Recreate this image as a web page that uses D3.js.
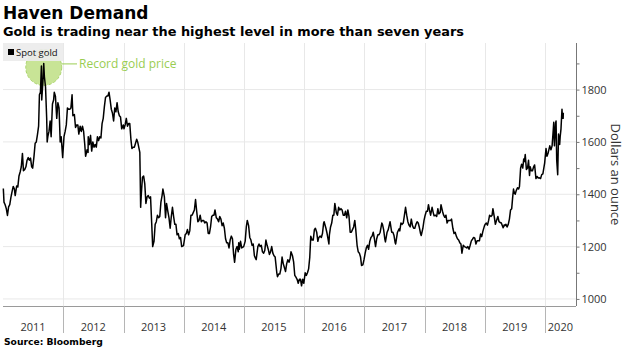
<!DOCTYPE html>
<html>
<head>
<meta charset="utf-8">
<script src="https://cdn.jsdelivr.net/npm/d3@7"></script>
<style>
  html, body { margin: 0; padding: 0; background: #fff; }
  svg { display: block; }
  .title { font-family: "DejaVu Sans", Verdana, sans-serif; font-weight: bold; }
  .lbl { font-family: "Open Sans", "Noto Sans", sans-serif; }
</style>
</head>
<body>
<div id="chart"></div>
<script>
// Spot gold, USD per ounce
const spotGold = [
  ["2011-01-03",1422],["2011-01-07",1370],["2011-01-14",1360],["2011-01-21",1345],["2011-01-28",1319],
  ["2011-02-04",1352],["2011-02-11",1360],["2011-02-18",1388],["2011-02-25",1410],
  ["2011-03-04",1430],["2011-03-11",1420],["2011-03-16",1395],["2011-03-25",1432],
  ["2011-04-01",1428],["2011-04-08",1470],["2011-04-15",1485],["2011-04-22",1505],["2011-04-29",1556],
  ["2011-05-05",1490],["2011-05-13",1495],["2011-05-20",1505],["2011-05-27",1530],
  ["2011-06-03",1540],["2011-06-10",1530],["2011-06-17",1538],["2011-06-24",1505],["2011-06-30",1500],
  ["2011-07-08",1545],["2011-07-15",1595],["2011-07-22",1600],["2011-07-29",1628],
  ["2011-08-05",1660],["2011-08-10",1780],["2011-08-16",1790],["2011-08-22",1890],["2011-08-24",1760],["2011-08-31",1830],
  ["2011-09-05",1900],["2011-09-09",1850],["2011-09-16",1810],["2011-09-23",1690],["2011-09-26",1600],["2011-09-30",1620],
  ["2011-10-07",1640],["2011-10-14",1680],["2011-10-20",1620],["2011-10-28",1745],
  ["2011-11-04",1760],["2011-11-08",1790],["2011-11-15",1775],["2011-11-23",1690],["2011-11-30",1750],
  ["2011-12-07",1730],["2011-12-14",1600],["2011-12-20",1620],["2011-12-29",1540],
  ["2012-01-06",1620],["2012-01-13",1640],["2012-01-20",1665],["2012-01-27",1730],
  ["2012-02-03",1725],["2012-02-10",1725],["2012-02-17",1730],["2012-02-24",1780],["2012-02-29",1700],
  ["2012-03-09",1705],["2012-03-16",1655],["2012-03-23",1665],["2012-03-30",1665],
  ["2012-04-05",1630],["2012-04-13",1660],["2012-04-20",1640],["2012-04-27",1660],
  ["2012-05-04",1640],["2012-05-11",1590],["2012-05-16",1545],["2012-05-25",1570],["2012-05-31",1560],
  ["2012-06-01",1620],["2012-06-08",1590],["2012-06-15",1625],["2012-06-22",1565],["2012-06-29",1600],
  ["2012-07-06",1580],["2012-07-13",1590],["2012-07-20",1580],["2012-07-27",1620],
  ["2012-08-03",1605],["2012-08-10",1620],["2012-08-17",1615],["2012-08-24",1670],["2012-08-31",1690],
  ["2012-09-07",1735],["2012-09-14",1770],["2012-09-21",1775],["2012-09-28",1775],
  ["2012-10-05",1790],["2012-10-12",1760],["2012-10-19",1725],["2012-10-26",1710],
  ["2012-11-02",1680],["2012-11-09",1730],["2012-11-16",1715],["2012-11-23",1750],["2012-11-30",1715],
  ["2012-12-07",1700],["2012-12-14",1695],["2012-12-21",1650],["2012-12-31",1665],
  ["2013-01-04",1650],["2013-01-11",1665],["2013-01-18",1690],["2013-01-25",1660],
  ["2013-02-01",1670],["2013-02-08",1670],["2013-02-15",1610],["2013-02-21",1575],["2013-02-28",1580],
  ["2013-03-08",1580],["2013-03-15",1595],["2013-03-22",1610],["2013-03-28",1600],
  ["2013-04-05",1575],["2013-04-10",1560],["2013-04-12",1480],["2013-04-15",1350],["2013-04-19",1400],["2013-04-26",1465],
  ["2013-05-03",1470],["2013-05-10",1440],["2013-05-17",1365],["2013-05-24",1390],["2013-05-31",1395],
  ["2013-06-07",1385],["2013-06-14",1390],["2013-06-21",1290],["2013-06-27",1200],["2013-07-05",1220],
  ["2013-07-12",1285],["2013-07-19",1295],["2013-07-26",1320],
  ["2013-08-02",1310],["2013-08-09",1315],["2013-08-16",1370],["2013-08-23",1395],["2013-08-28",1420],
  ["2013-09-06",1390],["2013-09-13",1310],["2013-09-19",1365],["2013-09-27",1335],
  ["2013-10-04",1310],["2013-10-11",1270],["2013-10-18",1315],["2013-10-25",1350],
  ["2013-11-01",1315],["2013-11-08",1285],["2013-11-15",1285],["2013-11-22",1245],["2013-11-29",1250],
  ["2013-12-06",1230],["2013-12-13",1235],["2013-12-20",1200],["2013-12-31",1204],
  ["2014-01-10",1245],["2014-01-17",1250],["2014-01-24",1265],["2014-01-31",1245],
  ["2014-02-07",1260],["2014-02-14",1320],["2014-02-21",1320],["2014-02-28",1330],
  ["2014-03-07",1340],["2014-03-14",1380],["2014-03-21",1335],["2014-03-28",1295],
  ["2014-04-04",1300],["2014-04-11",1320],["2014-04-18",1295],["2014-04-25",1300],
  ["2014-05-02",1300],["2014-05-09",1290],["2014-05-16",1295],["2014-05-23",1290],["2014-05-30",1250],
  ["2014-06-06",1250],["2014-06-13",1275],["2014-06-20",1315],["2014-06-27",1320],
  ["2014-07-04",1320],["2014-07-10",1340],["2014-07-18",1310],["2014-07-25",1305],
  ["2014-08-01",1295],["2014-08-08",1315],["2014-08-15",1305],["2014-08-22",1280],["2014-08-29",1290],
  ["2014-09-05",1270],["2014-09-12",1230],["2014-09-19",1215],["2014-09-26",1215],
  ["2014-10-03",1195],["2014-10-10",1225],["2014-10-17",1240],["2014-10-24",1230],["2014-10-31",1170],
  ["2014-11-06",1140],["2014-11-14",1190],["2014-11-21",1200],["2014-11-28",1180],
  ["2014-12-01",1215],["2014-12-05",1190],["2014-12-12",1220],["2014-12-19",1195],["2014-12-31",1200],
  ["2015-01-09",1220],["2015-01-16",1275],["2015-01-22",1300],["2015-01-30",1280],
  ["2015-02-06",1235],["2015-02-13",1225],["2015-02-20",1205],["2015-02-27",1210],
  ["2015-03-06",1165],["2015-03-13",1155],["2015-03-17",1150],["2015-03-27",1200],
  ["2015-04-03",1210],["2015-04-10",1200],["2015-04-17",1205],["2015-04-24",1180],
  ["2015-05-01",1175],["2015-05-08",1185],["2015-05-15",1225],["2015-05-22",1205],["2015-05-29",1190],
  ["2015-06-05",1170],["2015-06-12",1180],["2015-06-19",1200],["2015-06-26",1175],
  ["2015-07-03",1165],["2015-07-10",1160],["2015-07-20",1100],["2015-07-24",1085],["2015-07-31",1095],
  ["2015-08-07",1095],["2015-08-14",1115],["2015-08-21",1160],["2015-08-28",1135],
  ["2015-09-04",1120],["2015-09-11",1105],["2015-09-18",1135],["2015-09-25",1150],
  ["2015-10-02",1140],["2015-10-09",1155],["2015-10-14",1180],["2015-10-23",1165],["2015-10-30",1142],
  ["2015-11-06",1090],["2015-11-13",1083],["2015-11-20",1075],["2015-11-27",1060],
  ["2015-12-04",1075],["2015-12-11",1075],["2015-12-17",1050],["2015-12-24",1075],["2015-12-31",1060],
  ["2016-01-08",1100],["2016-01-15",1090],["2016-01-22",1100],["2016-01-29",1115],
  ["2016-02-05",1160],["2016-02-11",1240],["2016-02-19",1225],["2016-02-26",1225],
  ["2016-03-04",1265],["2016-03-10",1270],["2016-03-18",1255],["2016-03-25",1220],["2016-03-31",1235],
  ["2016-04-08",1240],["2016-04-15",1235],["2016-04-22",1250],["2016-04-29",1290],
  ["2016-05-02",1295],["2016-05-13",1270],["2016-05-20",1250],["2016-05-31",1210],
  ["2016-06-03",1245],["2016-06-10",1275],["2016-06-17",1290],["2016-06-24",1320],["2016-06-30",1320],
  ["2016-07-06",1365],["2016-07-15",1330],["2016-07-22",1320],["2016-07-29",1350],
  ["2016-08-05",1340],["2016-08-12",1345],["2016-08-19",1340],["2016-08-26",1320],
  ["2016-09-02",1320],["2016-09-09",1335],["2016-09-16",1310],["2016-09-23",1340],["2016-09-30",1315],
  ["2016-10-07",1255],["2016-10-14",1255],["2016-10-21",1265],["2016-10-28",1275],
  ["2016-11-04",1300],["2016-11-10",1265],["2016-11-18",1205],["2016-11-25",1180],
  ["2016-12-02",1175],["2016-12-09",1160],["2016-12-15",1128],["2016-12-23",1130],["2016-12-30",1150],
  ["2017-01-06",1175],["2017-01-13",1195],["2017-01-20",1205],["2017-01-27",1190],
  ["2017-02-03",1220],["2017-02-10",1235],["2017-02-17",1240],["2017-02-24",1255],
  ["2017-03-03",1230],["2017-03-10",1200],["2017-03-17",1230],["2017-03-24",1245],["2017-03-31",1245],
  ["2017-04-07",1255],["2017-04-17",1290],["2017-04-21",1285],["2017-04-28",1265],
  ["2017-05-05",1230],["2017-05-09",1218],["2017-05-19",1255],["2017-05-26",1265],
  ["2017-06-06",1295],["2017-06-16",1255],["2017-06-23",1255],["2017-06-30",1242],
  ["2017-07-07",1215],["2017-07-10",1210],["2017-07-21",1255],["2017-07-31",1268],
  ["2017-08-04",1260],["2017-08-11",1290],["2017-08-18",1285],["2017-08-25",1290],["2017-08-31",1315],
  ["2017-09-08",1350],["2017-09-15",1320],["2017-09-22",1295],["2017-09-29",1282],
  ["2017-10-06",1275],["2017-10-13",1305],["2017-10-20",1280],["2017-10-27",1270],
  ["2017-11-03",1270],["2017-11-10",1285],["2017-11-17",1295],["2017-11-24",1290],["2017-11-30",1275],
  ["2017-12-08",1250],["2017-12-12",1242],["2017-12-22",1270],["2017-12-29",1300],
  ["2018-01-05",1320],["2018-01-12",1335],["2018-01-19",1335],["2018-01-25",1360],["2018-01-31",1340],
  ["2018-02-07",1320],["2018-02-16",1350],["2018-02-23",1330],["2018-02-28",1318],
  ["2018-03-09",1320],["2018-03-16",1315],["2018-03-23",1345],["2018-03-29",1325],
  ["2018-04-06",1330],["2018-04-11",1360],["2018-04-20",1335],["2018-04-27",1320],
  ["2018-05-04",1312],["2018-05-11",1320],["2018-05-18",1290],["2018-05-25",1300],["2018-05-31",1300],
  ["2018-06-08",1300],["2018-06-14",1305],["2018-06-22",1270],["2018-06-29",1250],
  ["2018-07-06",1255],["2018-07-13",1240],["2018-07-20",1230],["2018-07-27",1225],
  ["2018-08-03",1215],["2018-08-10",1210],["2018-08-16",1175],["2018-08-24",1205],["2018-08-31",1200],
  ["2018-09-07",1198],["2018-09-14",1195],["2018-09-21",1200],["2018-09-28",1190],
  ["2018-10-05",1205],["2018-10-12",1222],["2018-10-19",1228],["2018-10-26",1235],
  ["2018-11-02",1232],["2018-11-09",1210],["2018-11-16",1222],["2018-11-23",1222],["2018-11-30",1222],
  ["2018-12-07",1248],["2018-12-14",1238],["2018-12-21",1258],["2018-12-31",1280],
  ["2019-01-04",1285],["2019-01-11",1290],["2019-01-18",1282],["2019-01-25",1300],["2019-01-31",1320],
  ["2019-02-08",1315],["2019-02-15",1320],["2019-02-20",1345],["2019-02-28",1315],
  ["2019-03-07",1285],["2019-03-15",1302],["2019-03-22",1315],["2019-03-29",1295],
  ["2019-04-05",1292],["2019-04-12",1290],["2019-04-23",1272],["2019-04-30",1283],
  ["2019-05-03",1280],["2019-05-10",1285],["2019-05-17",1275],["2019-05-24",1285],["2019-05-31",1305],
  ["2019-06-07",1340],["2019-06-14",1345],["2019-06-20",1390],["2019-06-25",1420],["2019-06-28",1410],
  ["2019-07-05",1400],["2019-07-12",1415],["2019-07-19",1425],["2019-07-26",1420],["2019-07-31",1430],
  ["2019-08-07",1500],["2019-08-13",1515],["2019-08-20",1500],["2019-08-26",1535],["2019-08-30",1525],
  ["2019-09-04",1552],["2019-09-11",1495],["2019-09-18",1500],["2019-09-24",1530],["2019-09-30",1472],
  ["2019-10-04",1505],["2019-10-11",1490],["2019-10-18",1490],["2019-10-25",1505],["2019-10-31",1512],
  ["2019-11-08",1460],["2019-11-15",1468],["2019-11-22",1462],["2019-11-29",1463],
  ["2019-12-06",1460],["2019-12-13",1475],["2019-12-20",1478],["2019-12-31",1520],
  ["2020-01-08",1575],["2020-01-14",1545],["2020-01-21",1558],["2020-01-31",1585],
  ["2020-02-07",1570],["2020-02-14",1585],["2020-02-21",1645],["2020-02-24",1675],["2020-02-28",1585],
  ["2020-03-06",1670],["2020-03-09",1680],["2020-03-13",1530],["2020-03-19",1475],["2020-03-24",1630],["2020-03-31",1590],
  ["2020-04-03",1620],["2020-04-08",1650],["2020-04-14",1725],["2020-04-17",1690],["2020-04-21",1690],["2020-04-22",1712]
];

const years = [2011, 2012, 2013, 2014, 2015, 2016, 2017, 2018, 2019, 2020];
const yMinorTicks = [1000, 1100, 1200, 1300, 1400, 1500, 1600, 1700, 1800, 1900];
const yLabelTicks = [1000, 1200, 1400, 1600, 1800];
const recordPoint = ["2011-09-05", 1900];

const W = 625, H = 351;
const M = { left: 3, right: 49, top: 43, bottom: 45 };
const parse = d3.timeParse("%Y-%m-%d");
const data = spotGold.map(d => ({ date: parse(d[0]), value: d[1] }));

const svg = d3.select("#chart").append("svg")
  .attr("width", W).attr("height", H);

const x = d3.scaleTime()
  .domain([new Date(2011, 0, 1), new Date(2020, 6, 8)])
  .range([M.left, W - M.right]);
const y = d3.scaleLinear()
  .domain([973, 1978])
  .range([H - M.bottom, M.top]);

// gridlines
svg.append("g").selectAll("line").data(yLabelTicks).join("line")
  .attr("x1", M.left).attr("x2", W - M.right)
  .attr("y1", d => y(d)).attr("y2", d => y(d))
  .attr("stroke", "#e8e8e8").attr("stroke-width", 1);
svg.append("g").selectAll("line").data(years.slice(1)).join("line")
  .attr("x1", d => Math.round(x(new Date(d, 0, 1))) + 0.5)
  .attr("x2", d => Math.round(x(new Date(d, 0, 1))) + 0.5)
  .attr("y1", M.top).attr("y2", H - M.bottom)
  .attr("stroke", "#e8e8e8").attr("stroke-width", 1);

// x axis: baseline, year separators, centred labels
const xAxis = svg.append("g");
xAxis.append("line")
  .attr("x1", M.left).attr("x2", W - M.right)
  .attr("y1", H - M.bottom + 0.5).attr("y2", H - M.bottom + 0.5)
  .attr("stroke", "#9a9a9a");
xAxis.selectAll(".sep").data(years.slice(1)).join("line")
  .attr("class", "sep")
  .attr("x1", d => Math.round(x(new Date(d, 0, 1))) + 0.5)
  .attr("x2", d => Math.round(x(new Date(d, 0, 1))) + 0.5)
  .attr("y1", H - M.bottom).attr("y2", H - M.bottom + 27)
  .attr("stroke", "#b5b5b5");
xAxis.selectAll("text").data(years).join("text")
  .attr("class", "lbl")
  .attr("x", d => (Math.max(x(new Date(d, 0, 1)), M.left) + Math.min(x(new Date(d + 1, 0, 1)), W - M.right)) / 2)
  .attr("y", H - M.bottom + 25)
  .attr("text-anchor", "middle")
  .attr("font-size", 11).attr("fill", "#333")
  .text(d => d);

// y axis on the right
const yAxis = d3.axisRight(y).tickValues(yMinorTicks).tickSize(3)
  .tickFormat(d => yLabelTicks.includes(d) ? d : "");
const yG = svg.append("g")
  .attr("transform", `translate(${W - M.right + 0.5},0)`)
  .call(yAxis);
yG.select(".domain").attr("d", `M0,${M.top}V${H - M.bottom}`).attr("stroke", "#777");
yG.selectAll(".tick line").attr("stroke", "#777");
yG.selectAll(".tick text")
  .attr("class", "lbl").attr("x", 5)
  .attr("font-size", 11).attr("fill", "#333");

svg.append("text")
  .attr("class", "lbl")
  .attr("transform", `translate(611,${(M.top + H - M.bottom) / 2}) rotate(90)`)
  .attr("text-anchor", "middle")
  .attr("font-size", 13).attr("fill", "#333")
  .text("Dollars an ounce");

// record highlight
const rx = x(parse(recordPoint[0])), ry = y(recordPoint[1]);
svg.append("line")
  .attr("x1", rx + 17).attr("x2", 77)
  .attr("y1", ry + 0.5).attr("y2", ry + 0.5)
  .attr("stroke", "#9acd52").attr("stroke-width", 1);
svg.append("circle")
  .attr("cx", rx).attr("cy", ry + 4).attr("r", 18)
  .attr("fill", "#c8e496")
  .attr("stroke", "#a9d46a").attr("stroke-dasharray", "3,2");

// price line
svg.append("path")
  .datum(data)
  .attr("fill", "none")
  .attr("stroke", "#000")
  .attr("stroke-width", 1.5)
  .attr("stroke-linejoin", "round")
  .attr("d", d3.line().x(d => x(d.date)).y(d => y(d.value)));

svg.append("text")
  .attr("class", "lbl")
  .attr("x", 79).attr("y", ry + 4.5)
  .attr("font-size", 12).attr("fill", "#9acd52")
  .text("Record gold price");

// legend
const lg = svg.append("g");
lg.append("rect").attr("x", 3).attr("y", M.top).attr("width", 60).attr("height", 18)
  .attr("fill", "#ececec").attr("fill-opacity", 0.92);
lg.append("rect").attr("x", 8).attr("y", M.top + 6).attr("width", 6).attr("height", 6).attr("fill", "#000");
lg.append("text").attr("class", "lbl").attr("x", 16).attr("y", M.top + 12.5)
  .attr("font-size", 9.5).attr("fill", "#111").text("Spot gold");

// titles
svg.append("text").attr("class", "title")
  .attr("x", 3).attr("y", 19).attr("font-size", 17).attr("fill", "#000")
  .text("Haven Demand");
svg.append("text").attr("class", "title")
  .attr("x", 3).attr("y", 36).attr("font-size", 12.9).attr("fill", "#000")
  .text("Gold is trading near the highest level in more than seven years");
svg.append("text").attr("class", "title")
  .attr("x", 4).attr("y", 345).attr("font-size", 9.2).attr("fill", "#000")
  .text("Source: Bloomberg");
</script>
</body>
</html>
